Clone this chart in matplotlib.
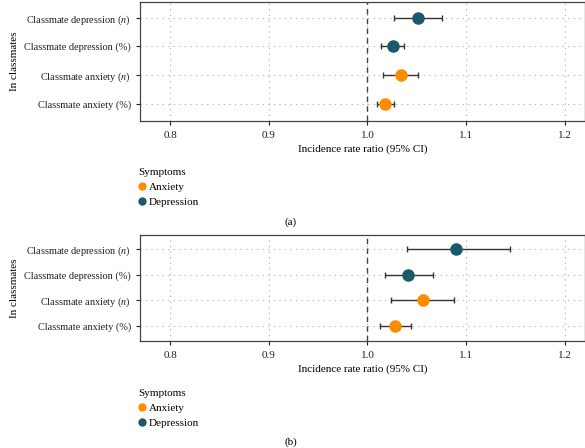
import numpy as np
import matplotlib.pyplot as plt
from matplotlib.lines import Line2D

plt.rcParams['font.family'] = ['Liberation Serif', 'DejaVu Serif']
plt.rcParams['mathtext.fontset'] = 'stix'

labels = ['Classmate anxiety (%)', 'Classmate anxiety ($n$)',
          'Classmate depression (%)', 'Classmate depression ($n$)']
groups = ['Anxiety', 'Anxiety', 'Depression', 'Depression']

# panel (a)
irr_a = [1.018, 1.034, 1.026, 1.051]
lo_a = [1.010, 1.016, 1.014, 1.027]
hi_a = [1.027, 1.051, 1.037, 1.076]

# panel (b)
irr_b = [1.028, 1.056, 1.041, 1.090]
lo_b = [1.013, 1.024, 1.018, 1.040]
hi_b = [1.044, 1.088, 1.066, 1.144]

colors = {'Anxiety': '#FF8C00', 'Depression': '#1B5A6A'}
W, H = 585, 448
FS = 8


def panel(fig, ax, irr, lo, hi, tag, leg_top, tag_y):
    y = np.arange(len(labels))
    for i in y:
        ax.errorbar(irr[i], i, xerr=[[irr[i] - lo[i]], [hi[i] - irr[i]]],
                    fmt='none', ecolor='#333333', elinewidth=1, capsize=2.5,
                    capthick=1, zorder=3)
        ax.plot(irr[i], i, 'o', ms=8, color=colors[groups[i]], zorder=4)
    ax.axvline(1.0, color='#444444', ls=(0, (4, 3)), lw=1, zorder=2)
    ax.set_xlim(0.7695, 1.2205)
    ax.set_ylim(-0.6, 3.55)
    ax.set_xticks([0.8, 0.9, 1.0, 1.1, 1.2])
    ax.set_xticklabels(['0.8', '0.9', '1.0', '1.1', '1.2'])
    ax.set_yticks(y)
    ax.set_yticklabels(labels)
    ax.grid(True, ls=(0, (1, 4)), color='#aaaaaa', lw=0.8)
    ax.tick_params(length=3, width=0.8, colors='#222222')
    ax.tick_params(axis='x', pad=4.5, labelsize=FS)
    ax.tick_params(axis='y', labelsize=7.4)
    for s in ax.spines.values():
        s.set_color('#444444')
        s.set_linewidth(0.9)
    ax.set_xlabel('Incidence rate ratio (95% CI)', fontsize=FS, labelpad=3)
    ax.set_ylabel('In classmates', fontsize=FS, labelpad=4)
    handles = [Line2D([], [], marker='o', ls='none', ms=5, color=colors[g], label=g)
               for g in ['Anxiety', 'Depression']]
    leg = fig.legend(handles=handles, title='Symptoms', loc='upper left',
                     bbox_to_anchor=(138 / W, 1 - leg_top / H),
                     bbox_transform=fig.transFigure, frameon=False, fontsize=FS,
                     title_fontsize=FS, handletextpad=0.3, handlelength=0.7,
                     borderpad=0, borderaxespad=0, labelspacing=0.45)
    leg._legend_box.align = 'left'
    leg._legend_box.sep = 4
    fig.text(291 / W, 1 - tag_y / H, tag, ha='center', va='center', fontsize=FS)


fig = plt.figure(figsize=(W / 100, H / 100), dpi=100)
ax1 = fig.add_axes([140 / W, 1 - 121 / H, 445 / W, 119 / H])
ax2 = fig.add_axes([140 / W, 1 - 341 / H, 445 / W, 106 / H])
panel(fig, ax1, irr_a, lo_a, hi_a, '(a)', 168, 222)
panel(fig, ax2, irr_b, lo_b, hi_b, '(b)', 389, 442)
fig.savefig('out.png', dpi=100)
